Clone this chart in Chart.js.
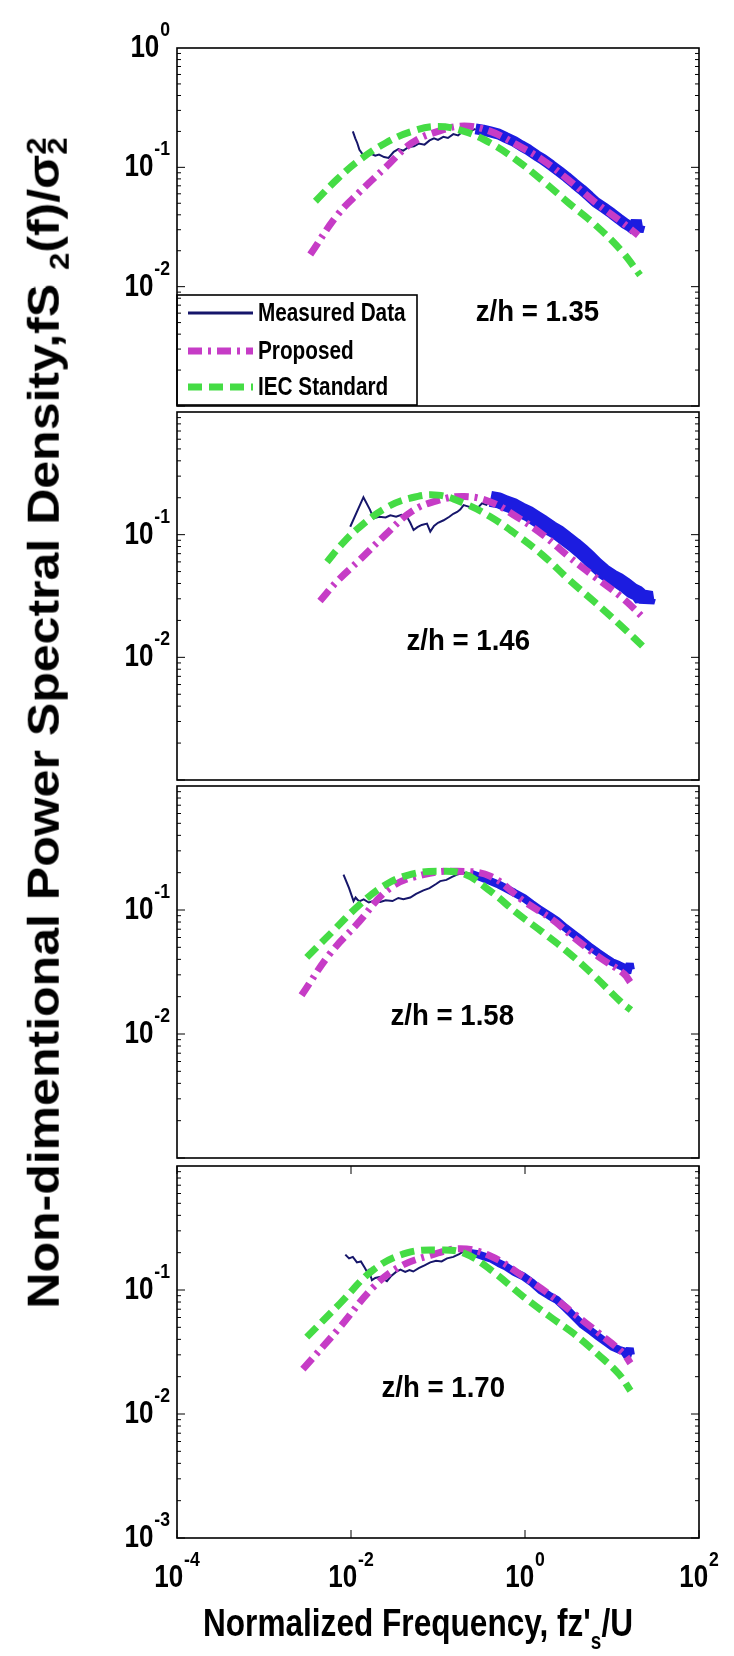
<!DOCTYPE html>
<html>
<head>
<meta charset="utf-8">
<script src="https://cdn.jsdelivr.net/npm/chart.js@4.4.1/dist/chart.umd.min.js"></script>
<style>
  html, body { margin: 0; padding: 0; background: #fff; }
  #wrap { position: relative; width: 734px; height: 1656px; overflow: hidden; background: #fff; }
  #wrap canvas { position: absolute; left: 0; top: 0; }
  .ytitle {
    position: absolute; left: 47px; top: 723px; white-space: nowrap;
    font: bold 44px "Liberation Sans", Arial, sans-serif; color: #000;
    transform: translate(-50%, -50%) rotate(-90deg) scaleX(1.137);
  }
  .xtitle {
    position: absolute; left: 418px; top: 1628px; white-space: nowrap;
    font: bold 39px "Liberation Sans", Arial, sans-serif; color: #000;
    transform: translate(-50%, -50%) scaleX(0.81);
  }
  .sub { font-size: 62%; vertical-align: -0.35em; }
  .xsub { font-size: 60%; vertical-align: -0.55em; }
  .stack { display: inline-block; vertical-align: middle; line-height: 0.8; font-size: 62%; text-align: left; }
</style>
</head>
<body>
<div id="wrap">
  <canvas id="c1" width="734" height="1656"></canvas>
  <canvas id="c2" width="734" height="1656"></canvas>
  <canvas id="c3" width="734" height="1656"></canvas>
  <canvas id="c4" width="734" height="1656"></canvas>
  <div class="ytitle">Non-dimentional Power Spectral Density,fS <span class="sub">2</span>(f)/σ<span class="stack">2<br>2</span></div>
  <div class="xtitle">Normalized Frequency, fz'<span class="xsub">s</span>/U</div>
</div>
<script>
// ---- data (frequency fz's/U, spectrum fS/sigma^2) ----
// z/h = 1.35
const p1IecF = [0.0039, 0.007, 0.0125, 0.025, 0.05, 0.1, 0.2, 0.4, 0.8, 1.6, 3.2, 6.4, 12.8, 21]
const p1IecS = [0.052, 0.08, 0.115, 0.16, 0.2, 0.22, 0.2, 0.16, 0.115, 0.077, 0.05, 0.033, 0.02, 0.0125]
const p1PropF = [0.0034, 0.007, 0.0125, 0.025, 0.05, 0.1, 0.2, 0.4, 0.8, 1.6, 3.2, 6.4, 12.8, 20]
const p1PropS = [0.0186, 0.04, 0.062, 0.1, 0.16, 0.2, 0.222, 0.2, 0.155, 0.115, 0.078, 0.051, 0.035, 0.027]
const p1MeasF = [0.0105, 0.0112, 0.0118, 0.0125, 0.0135, 0.015, 0.017, 0.019, 0.021, 0.024, 0.027, 0.031, 0.035, 0.04, 0.046, 0.053, 0.06, 0.07, 0.08, 0.09, 0.1, 0.115, 0.13, 0.15, 0.17, 0.2, 0.23, 0.27]
const p1MeasS = [0.2, 0.175, 0.16, 0.14, 0.13, 0.128, 0.13, 0.125, 0.128, 0.122, 0.12, 0.135, 0.142, 0.138, 0.148, 0.15, 0.158, 0.155, 0.168, 0.175, 0.17, 0.18, 0.176, 0.19, 0.185, 0.205, 0.2, 0.21]
const p1BandF = [0.27, 0.33, 0.4, 0.5, 0.6, 0.75, 0.9, 1.1, 1.35, 1.6, 2, 2.5, 3, 3.7, 4.5, 5.5, 6.5, 8, 10, 12, 14, 16, 18, 19, 20, 21]
const p1BandS = [0.21, 0.205, 0.198, 0.19, 0.178, 0.165, 0.152, 0.14, 0.126, 0.117, 0.104, 0.092, 0.083, 0.073, 0.065, 0.057, 0.051, 0.046, 0.041, 0.037, 0.034, 0.032, 0.03, 0.036, 0.029, 0.033]

// z/h = 1.46
const p2IecF = [0.0053, 0.008, 0.0125, 0.025, 0.05, 0.1, 0.2, 0.4, 0.8, 1.6, 3.2, 6.4, 12.8, 25]
const p2IecS = [0.06, 0.085, 0.115, 0.165, 0.2, 0.21, 0.18, 0.14, 0.1, 0.068, 0.043, 0.028, 0.018, 0.0115]
const p2PropF = [0.0044, 0.007, 0.0125, 0.025, 0.05, 0.1, 0.2, 0.4, 0.8, 1.6, 3.2, 6.4, 12.8, 23]
const p2PropS = [0.0288, 0.042, 0.062, 0.1, 0.155, 0.19, 0.205, 0.185, 0.14, 0.1, 0.066, 0.045, 0.031, 0.021]
const p2MeasF = [0.0098, 0.0139, 0.0165, 0.0182, 0.021, 0.025, 0.0283, 0.033, 0.038, 0.044, 0.048, 0.0524, 0.058, 0.065, 0.0747, 0.0815, 0.09, 0.1, 0.116, 0.135, 0.15, 0.166, 0.18, 0.197, 0.22, 0.25, 0.281, 0.32, 0.36, 0.4]
const p2MeasS = [0.116, 0.202, 0.16, 0.136, 0.14, 0.138, 0.144, 0.14, 0.145, 0.14, 0.125, 0.109, 0.115, 0.12, 0.123, 0.106, 0.118, 0.125, 0.131, 0.14, 0.148, 0.153, 0.16, 0.174, 0.17, 0.165, 0.163, 0.18, 0.175, 0.196]
const p2BandF = [0.4, 0.5, 0.6, 0.75, 0.9, 1.1, 1.35, 1.6, 2, 2.4, 3, 3.7, 4.5, 5.5, 6.5, 8, 10, 12, 14, 17, 20, 22, 24, 25, 26]
const p2BandS = [0.196, 0.19, 0.18, 0.17, 0.158, 0.148, 0.135, 0.125, 0.112, 0.104, 0.092, 0.082, 0.073, 0.064, 0.057, 0.05, 0.045, 0.042, 0.039, 0.035, 0.033, 0.03, 0.034, 0.028, 0.031]

// z/h = 1.58
const p3IecF = [0.0031, 0.006, 0.0125, 0.025, 0.05, 0.1, 0.2, 0.4, 0.8, 1.6, 3.2, 6.4, 12.8, 16.5]
const p3IecS = [0.0415, 0.066, 0.11, 0.16, 0.195, 0.205, 0.195, 0.142, 0.095, 0.066, 0.045, 0.029, 0.018, 0.0156]
const p3PropF = [0.0027, 0.0057, 0.0117, 0.0283, 0.068, 0.166, 0.4, 0.966, 2, 3.63, 7, 13.7, 16.3]
const p3PropS = [0.0205, 0.0442, 0.0768, 0.151, 0.193, 0.205, 0.187, 0.118, 0.085, 0.06, 0.042, 0.0306, 0.026]
const p3MeasF = [0.0082, 0.0095, 0.0107, 0.0113, 0.012, 0.0126, 0.014, 0.016, 0.018, 0.0217, 0.025, 0.03, 0.035, 0.04, 0.048, 0.056, 0.068, 0.08, 0.095, 0.106, 0.125, 0.145, 0.166, 0.2, 0.24]
const p3MeasS = [0.193, 0.15, 0.118, 0.126, 0.12, 0.118, 0.122, 0.115, 0.118, 0.116, 0.12, 0.118, 0.125, 0.122, 0.126, 0.135, 0.144, 0.15, 0.162, 0.171, 0.175, 0.185, 0.193, 0.2, 0.196]
const p3BandF = [0.24, 0.3, 0.4, 0.5, 0.6, 0.75, 0.97, 1.2, 1.5, 1.9, 2.34, 2.9, 3.6, 4.5, 5.66, 7, 8.5, 10, 12, 13.7, 15, 16, 16.5]
const p3BandS = [0.196, 0.185, 0.171, 0.16, 0.15, 0.138, 0.125, 0.112, 0.1, 0.09, 0.0817, 0.072, 0.064, 0.057, 0.05, 0.045, 0.041, 0.038, 0.036, 0.0345, 0.031, 0.037, 0.033]

// z/h = 1.70
const p4IecF = [0.0031, 0.0075, 0.0182, 0.044, 0.106, 0.197, 0.4, 0.966, 2, 3.63, 7, 12, 16.3]
const p4IecS = [0.0417, 0.078, 0.146, 0.199, 0.21, 0.199, 0.146, 0.088, 0.06, 0.0445, 0.03, 0.021, 0.0154]
const p4PropF = [0.0028, 0.0075, 0.0182, 0.0368, 0.0815, 0.181, 0.4, 0.966, 2, 3.63, 7, 13.7, 16.3]
const p4PropS = [0.023, 0.0504, 0.106, 0.155, 0.19, 0.215, 0.188, 0.128, 0.09, 0.0646, 0.045, 0.0305, 0.0257]
const p4MeasF = [0.0086, 0.0095, 0.0105, 0.0117, 0.013, 0.0145, 0.0152, 0.016, 0.0174, 0.019, 0.0217, 0.024, 0.0259, 0.029, 0.033, 0.037, 0.042, 0.047, 0.052, 0.06, 0.07, 0.0815, 0.095, 0.11, 0.127, 0.15, 0.175, 0.197, 0.22]
const p4MeasS = [0.193, 0.18, 0.185, 0.167, 0.17, 0.15, 0.141, 0.145, 0.12, 0.125, 0.128, 0.122, 0.118, 0.13, 0.14, 0.146, 0.14, 0.145, 0.141, 0.15, 0.158, 0.167, 0.172, 0.17, 0.18, 0.185, 0.195, 0.205, 0.2]
const p4BandF = [0.22, 0.28, 0.35, 0.4, 0.5, 0.6, 0.75, 0.97, 1.2, 1.5, 1.9, 2.34, 2.9, 3.6, 4.5, 5.66, 7, 8.5, 10, 12, 13.7, 15, 16, 16.5]
const p4BandS = [0.2, 0.195, 0.185, 0.18, 0.165, 0.155, 0.14, 0.128, 0.115, 0.1, 0.09, 0.083, 0.072, 0.062, 0.053, 0.047, 0.042, 0.038, 0.035, 0.033, 0.032, 0.029, 0.034, 0.03]

const heightLabels = ['z/h = 1.35', 'z/h = 1.46', 'z/h = 1.58', 'z/h = 1.70']
const seriesNames = ['Measured Data', 'Proposed', 'IEC Standard']
// tick label exponents (10^e)
const yTickExp = [[0, -1, -2], [-1, -2], [-1, -2], [-1, -2, -3]]
const xTickExp = [-4, -2, 0, 2]

const colors = {
  measured: '#16166a',
  band: '#1c1ce0',
  proposed: '#c63cc6',
  iec: '#45dc45'
}
const fontFam = '"Liberation Sans", Arial, sans-serif'

function zip (fs, ss) {
  return fs.map((f, i) => ({ x: f, y: ss[i] }))
}

function drawPow (ctx, x, y, e, align) {
  const sx = 0.84
  const expTxt = e < 0 ? '-' + Math.abs(e) : String(e)
  ctx.save()
  ctx.fillStyle = '#000'
  ctx.textAlign = 'left'
  ctx.textBaseline = 'alphabetic'
  ctx.font = 'bold 31px ' + fontFam
  const wb = ctx.measureText('10').width
  ctx.font = 'bold 21px ' + fontFam
  const we = ctx.measureText(expTxt).width
  const total = (wb + we + 1) * sx
  const left = align === 'right' ? x - total : x - total / 2
  ctx.translate(left, y + 9)
  ctx.scale(sx, 1)
  ctx.font = 'bold 31px ' + fontFam
  ctx.fillText('10', 0, 0)
  ctx.font = 'bold 21px ' + fontFam
  ctx.fillText(expTxt, wb + 1, -21)
  ctx.restore()
}

function drawCondensed (ctx, txt, x, y, font, sx, align) {
  ctx.save()
  ctx.font = font
  ctx.fillStyle = '#000'
  ctx.textBaseline = 'middle'
  const w = ctx.measureText(txt).width * sx
  const left = align === 'center' ? x - w / 2 : x
  ctx.translate(left, y)
  ctx.scale(sx, 1)
  ctx.textAlign = 'left'
  ctx.fillText(txt, 0, 0)
  ctx.restore()
}

const decor = {
  id: 'decor',
  afterDatasetsDraw (chart, args, opts) {
    const ctx = chart.ctx
    const a = chart.chartArea
    const xs = chart.scales.x
    const ys = chart.scales.y
    ctx.save()
    // legend box (first panel only)
    if (opts.legend) {
      const lx = a.left, ly = a.top + 247, lw = 240, lh = a.bottom - 1 - ly
      ctx.fillStyle = '#fff'
      ctx.fillRect(lx, ly, lw, lh)
      ctx.strokeStyle = '#000'
      ctx.lineWidth = 1.6
      ctx.strokeRect(lx, ly, lw, lh)
      const rows = [ly + 18, ly + 56, ly + 92]
      const styles = [
        { c: colors.measured, w: 3, d: [] },
        { c: colors.proposed, w: 7, d: [14, 6, 3, 6] },
        { c: colors.iec, w: 7, d: [14, 7] }
      ]
      styles.forEach((s, i) => {
        ctx.beginPath()
        ctx.strokeStyle = s.c
        ctx.lineWidth = s.w
        ctx.setLineDash(s.d)
        ctx.moveTo(lx + 11, rows[i])
        ctx.lineTo(lx + 76, rows[i])
        ctx.stroke()
        ctx.setLineDash([])
        drawCondensed(ctx, seriesNames[i], lx + 81, rows[i] + 1, 'bold 25px ' + fontFam, 0.83, 'left')
      })
    }
    // box
    ctx.strokeStyle = '#000'
    ctx.lineWidth = 1.6
    ctx.strokeRect(a.left, a.top, a.width, a.height)
    // y ticks, inward, both sides
    ctx.lineWidth = 1
    ctx.beginPath()
    for (let e = -3; e < 0; e++) {
      for (let m = 1; m <= 9; m++) {
        const py = ys.getPixelForValue(m * Math.pow(10, e))
        const len = m === 1 ? 8 : 4
        ctx.moveTo(a.left, py); ctx.lineTo(a.left + len, py)
        ctx.moveTo(a.right, py); ctx.lineTo(a.right - len, py)
      }
    }
    if (opts.xLabels) {
      opts.xLabels.forEach(e => {
        const px = xs.getPixelForValue(Math.pow(10, e))
        ctx.moveTo(px, a.bottom); ctx.lineTo(px, a.bottom - 8)
        ctx.moveTo(px, a.top); ctx.lineTo(px, a.top + 8)
      })
    }
    ctx.stroke()
    // tick labels
    opts.yLabels.forEach(e => drawPow(ctx, a.left - 7, ys.getPixelForValue(Math.pow(10, e)), e, 'right'))
    if (opts.xLabels) {
      opts.xLabels.forEach(e => drawPow(ctx, xs.getPixelForValue(Math.pow(10, e)), a.bottom + 40, e, 'center'))
    }
    // height annotation
    drawCondensed(ctx, opts.text, xs.getPixelForValue(opts.textAt[0]), ys.getPixelForValue(opts.textAt[1]),
      'bold 30px ' + fontFam, 0.92, 'center')
    ctx.restore()
  }
}

const panels = [
  { id: 'c1', top: 48, bottom: 406, iec: zip(p1IecF, p1IecS), prop: zip(p1PropF, p1PropS), meas: zip(p1MeasF, p1MeasS), band: zip(p1BandF, p1BandS), bandW: 11, textAt: [1.39, 0.0061], legend: true },
  { id: 'c2', top: 412, bottom: 780, iec: zip(p2IecF, p2IecS), prop: zip(p2PropF, p2PropS), meas: zip(p2MeasF, p2MeasS), band: zip(p2BandF, p2BandS), bandW: 16, textAt: [0.223, 0.0135] },
  { id: 'c3', top: 786, bottom: 1158, iec: zip(p3IecF, p3IecS), prop: zip(p3PropF, p3PropS), meas: zip(p3MeasF, p3MeasS), band: zip(p3BandF, p3BandS), bandW: 8, textAt: [0.146, 0.0139] },
  { id: 'c4', top: 1166, bottom: 1538, iec: zip(p4IecF, p4IecS), prop: zip(p4PropF, p4PropS), meas: zip(p4MeasF, p4MeasS), band: zip(p4BandF, p4BandS), bandW: 8, textAt: [0.115, 0.016] }
]

panels.forEach((p, i) => {
  new Chart(document.getElementById(p.id), {
    type: 'line',
    data: {
      datasets: [
        { label: seriesNames[2], data: p.iec, borderColor: colors.iec, borderWidth: 7, borderDash: [14, 7], tension: 0.4, pointRadius: 0, order: 1 },
        { label: seriesNames[1], data: p.prop, borderColor: colors.proposed, borderWidth: 7, borderDash: [14, 6, 3, 6], tension: 0.4, pointRadius: 0, order: 2 },
        { label: seriesNames[0], data: p.meas, borderColor: colors.measured, borderWidth: 2, tension: 0, pointRadius: 0, order: 3 },
        { label: seriesNames[0], data: p.band, borderColor: colors.band, borderWidth: p.bandW, borderJoinStyle: 'bevel', tension: 0, pointRadius: 0, order: 4 }
      ]
    },
    options: {
      responsive: false,
      animation: false,
      events: [],
      layout: { padding: { left: 177, right: 734 - 699, top: p.top, bottom: 1656 - p.bottom } },
      scales: {
        x: { type: 'logarithmic', min: 1e-4, max: 1e2, display: false },
        y: { type: 'logarithmic', min: 1e-3, max: 1, display: false }
      },
      plugins: {
        legend: { display: false },
        tooltip: { enabled: false },
        decor: {
          yLabels: yTickExp[i],
          xLabels: i === 3 ? xTickExp : null,
          text: heightLabels[i],
          textAt: p.textAt,
          legend: !!p.legend
        }
      }
    },
    plugins: [decor]
  })
})
</script>
</body>
</html>
